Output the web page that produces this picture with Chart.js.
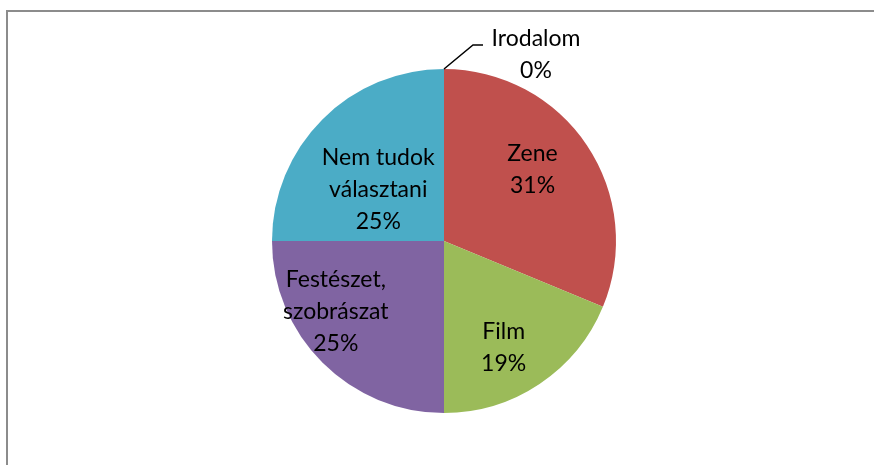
<!DOCTYPE html>
<html>
<head>
<meta charset="utf-8">
<script src="https://cdn.jsdelivr.net/npm/chart.js@4"></script>
<style>
  html, body { margin: 0; padding: 0; background: #fff; overflow: hidden; }
  #wrap { position: relative; width: 874px; height: 465px; }
  #frame { position: absolute; left: 6px; top: 10px; width: 900px; height: 500px; border: 2px solid #8c8c8c; box-sizing: border-box; }
  canvas { position: absolute; left: 0; top: 0; }
</style>
</head>
<body>
<div id="wrap">
  <div id="frame"></div>
  <canvas id="pie" width="874" height="465"></canvas>
</div>
<script>
const categories = ["Irodalom", "Zene", "Film", "Festészet, szobrászat", "Nem tudok választani"];
const labelLines = [["Irodalom"], ["Zene"], ["Film"], ["Festészet,", "szobrászat"], ["Nem tudok", "választani"]];
const values = [0, 5, 3, 4, 4];
const colors = ["#4F81BD", "#C0504D", "#9BBB59", "#8064A2", "#4BACC6"];

// label placement inside slices: fraction of radius and angle shift (deg)
const labelDist = [0, 0.66, 0.71, 0.75, 0.485];
const labelShift = [0, -5, 4.5, 12, -7];

const total = values.reduce((a, b) => a + b, 0);

const labelPlugin = {
  id: "pieLabels",
  afterDatasetsDraw(chart) {
    const ctx = chart.ctx;
    const meta = chart.getDatasetMeta(0);
    ctx.save();
    ctx.font = "23px Lato";
    ctx.fillStyle = "#000";
    ctx.textAlign = "center";
    ctx.textBaseline = "middle";
    const lineH = 32;
    meta.data.forEach((arc, i) => {
      const pct = Math.round((values[i] / total) * 100) + "%";
      const lines = labelLines[i].concat([pct]);
      const { x, y, startAngle, endAngle, outerRadius } = arc.getProps(["x", "y", "startAngle", "endAngle", "outerRadius"], true);
      if (values[i] === 0) {
        // leader line from the slice edge to an outside label
        const px = x + Math.cos(startAngle) * outerRadius;
        const py = y + Math.sin(startAngle) * outerRadius;
        ctx.strokeStyle = "#000";
        ctx.lineWidth = 1.5;
        ctx.beginPath();
        ctx.moveTo(px, py);
        ctx.lineTo(px + 29, py - 24);
        ctx.lineTo(px + 39, py - 24);
        ctx.stroke();
        const lx = px + 92;
        const ly = py - 14;
        lines.forEach((t, k) => ctx.fillText(t, lx, ly + k * lineH - (lines.length - 1) * lineH / 2));
        return;
      }
      const mid = (startAngle + endAngle) / 2 + labelShift[i] * Math.PI / 180;
      const cx = x + Math.cos(mid) * outerRadius * labelDist[i];
      const cy = y + Math.sin(mid) * outerRadius * labelDist[i];
      lines.forEach((t, k) => ctx.fillText(t, cx, cy + k * lineH - (lines.length - 1) * lineH / 2));
    });
    ctx.restore();
  },
};

new Chart(document.getElementById("pie"), {
  type: "pie",
  data: {
    labels: categories,
    datasets: [
      {
        data: values,
        backgroundColor: colors,
        borderWidth: 0,
      },
    ],
  },
  options: {
    responsive: false,
    animation: false,
    layout: { padding: { top: 69, bottom: 52, left: 272, right: 258 } },
    plugins: {
      legend: { display: false },
      tooltip: { enabled: false },
    },
  },
  plugins: [labelPlugin],
});
</script>
</body>
</html>
